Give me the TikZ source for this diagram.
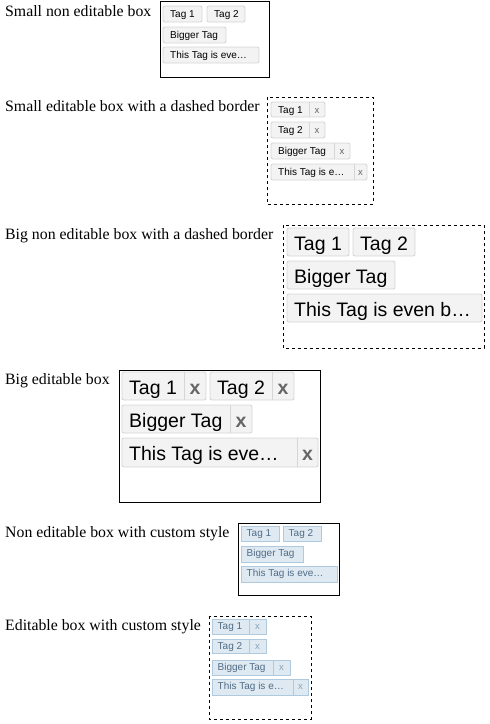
\documentclass[tikz,border=0pt]{standalone}
\usepackage{fontspec}
\setmainfont{Liberation Serif}
\newfontfamily\tagfont{Liberation Sans}
\definecolor{tagfill}{HTML}{F3F3F3}
\definecolor{tagline}{HTML}{D6D6D6}
\definecolor{custfill}{HTML}{DEE9F1}
\definecolor{custline}{HTML}{AFCADF}
\definecolor{custtext}{HTML}{516C86}
\definecolor{custx}{HTML}{8AA4BA}
\definecolor{xgray}{HTML}{666666}
\newcommand\tagN[7]{%
  \path[#6] (#1,#2) rectangle (#3,#4);
  \node[#7] at (#1+7,#2) {#5};}
\newcommand\tagE[9]{%
  \path[#7] (#1,#2) rectangle (#4,#5);
  \draw[#7,fill=none,rounded corners=0pt] (#3,#2) -- (#3,#5);
  \node[#8] at (#1+7,#2) {#6};
  \node[#9] at ({(#3+#4)/2},#2) {x};}
\begin{document}
\begin{tikzpicture}[x=1pt,y=-1pt,
  lbl/.style={anchor=base west,inner sep=0pt,font=\fontsize{15.8}{19}\selectfont},
  frame/.style={draw=black,line width=1pt},
  dframe/.style={draw=black,line width=1pt,dash pattern=on 3pt off 3pt},
  stdbox/.style={draw=tagline,fill=tagfill,line width=0.9pt,rounded corners=2pt},
  custbox/.style={draw=custline,fill=custfill,line width=0.9pt},
  smtext/.style={anchor=base west,inner sep=0pt,yshift=-11.3pt,font=\tagfont\fontsize{10}{12}\selectfont},
  bgtext/.style={anchor=base west,inner sep=0pt,yshift=-22pt,font=\tagfont\fontsize{19.5}{23}\selectfont},
  cstext/.style={anchor=base west,inner sep=0pt,xshift=-1.5pt,yshift=-10.8pt,text=custtext,font=\tagfont\fontsize{10}{12}\selectfont},
  smx/.style={anchor=base,inner sep=0pt,yshift=-11pt,text=xgray,font=\tagfont\fontsize{9.5}{12}\selectfont},
  bgx/.style={anchor=base,inner sep=0pt,yshift=-22pt,text=xgray,font=\tagfont\bfseries\fontsize{19.5}{23}\selectfont},
  csx/.style={anchor=base,inner sep=0pt,yshift=-10.8pt,text=custx,font=\tagfont\fontsize{9.5}{12}\selectfont}]
\useasboundingbox (0,0) rectangle (490,724);

% 1 Small non editable box
\node[lbl] (l1) at (5,16) {Small non editable box};
\draw[frame] (160,1) rectangle (269,77);
\tagN{163}{6}{202}{22}{Tag 1}{stdbox}{smtext}
\tagN{207}{6}{245}{22}{Tag 2}{stdbox}{smtext}
\tagN{163}{27}{226}{43}{Bigger Tag}{stdbox}{smtext}
\tagN{163}{47}{259}{63}{This Tag is eve…}{stdbox}{smtext}

% 2 Small editable box with dashed border
\node[lbl] (l2) at (5,111) {Small editable box with a dashed border};
\draw[dframe] (267,97) rectangle (373,204);
\tagE{271}{102}{309}{325}{117}{Tag 1}{stdbox}{smtext}{smx}
\tagE{271}{122}{309}{325}{138}{Tag 2}{stdbox}{smtext}{smx}
\tagE{271}{143}{334}{350}{159}{Bigger Tag}{stdbox}{smtext}{smx}
\tagE{271}{164}{354}{367}{180}{This Tag is e…}{stdbox}{smtext}{smx}

% 3 Big non editable box with dashed border
\node[lbl] (l3) at (5,239) {Big non editable box with a dashed border};
\draw[dframe] (283,225) rectangle (484,348);
\tagN{287}{228}{349}{256}{Tag 1}{stdbox}{bgtext}
\tagN{353}{228}{415}{256}{Tag 2}{stdbox}{bgtext}
\tagN{287}{261}{395}{289}{Bigger Tag}{stdbox}{bgtext}
\tagN{287}{294}{482}{322}{This Tag is even b…}{stdbox}{bgtext}

% 4 Big editable box
\node[lbl] (l4) at (5,384) {Big editable box};
\draw[frame] (119,370) rectangle (320,502);
\tagE{122}{372}{184}{206}{400}{Tag 1}{stdbox}{bgtext}{bgx}
\tagE{210}{372}{272}{294}{400}{Tag 2}{stdbox}{bgtext}{bgx}
\tagE{122}{405}{230}{252}{433}{Bigger Tag}{stdbox}{bgtext}{bgx}
\tagE{122}{438}{297}{318}{467}{This Tag is eve…}{stdbox}{bgtext}{bgx}

% 5 Non editable box with custom style
\node[lbl] (l5) at (5,537) {Non editable box with custom style};
\draw[frame] (238,523) rectangle (339,595);
\tagN{241}{526}{279}{541}{Tag 1}{custbox}{cstext}
\tagN{283}{526}{321}{541}{Tag 2}{custbox}{cstext}
\tagN{241}{546}{303}{562}{Bigger Tag}{custbox}{cstext}
\tagN{241}{566}{337}{582}{This Tag is eve…}{custbox}{cstext}

% 6 Editable box with custom style
\node[lbl] (l6) at (5,630) {Editable box with custom style};
\draw[dframe] (209,616) rectangle (311,719);
\tagE{212}{619}{249}{266}{634}{Tag 1}{custbox}{cstext}{csx}
\tagE{212}{639}{249}{266}{653}{Tag 2}{custbox}{cstext}{csx}
\tagE{212}{660}{273}{290}{675}{Bigger Tag}{custbox}{cstext}{csx}
\tagE{212}{679}{293}{308}{695}{This Tag is e…}{custbox}{cstext}{csx}
\end{tikzpicture}
\end{document}
